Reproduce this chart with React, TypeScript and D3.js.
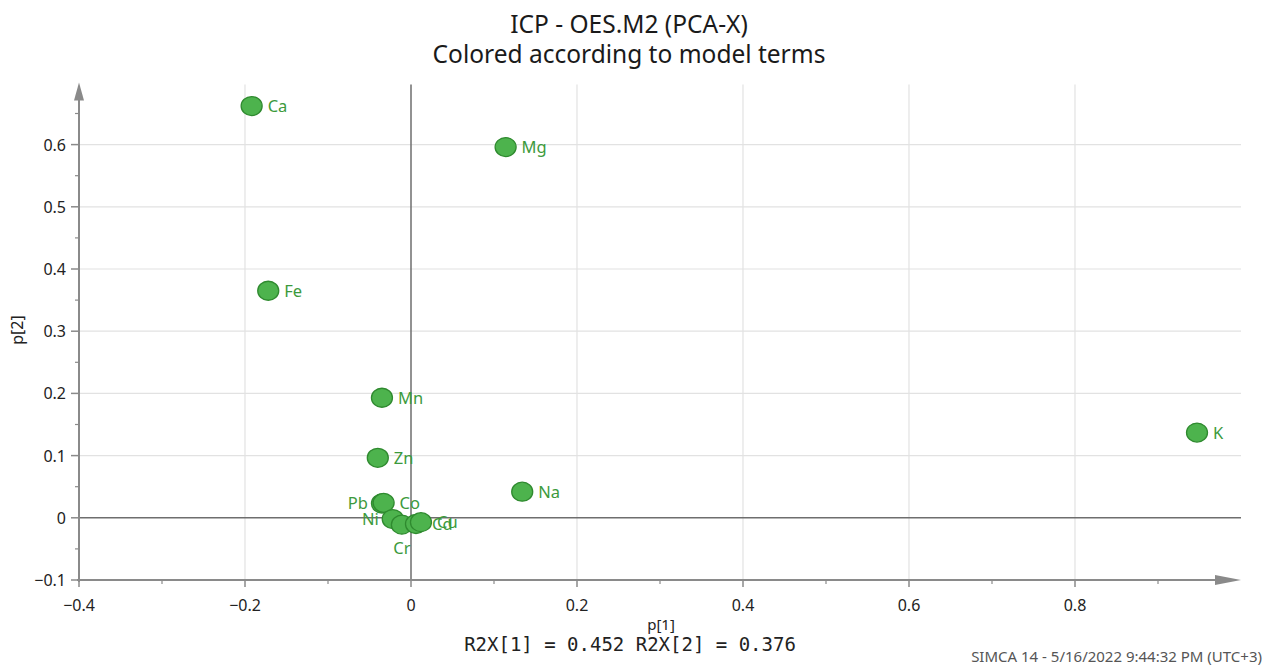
import React from "react";
import * as d3 from "d3";

const variables = ["Ca", "Mg", "Fe", "Mn", "Zn", "K", "Na", "Pb", "Co", "Ni", "Cr", "Cd", "Cu"];
const p1 = [-0.192, 0.114, -0.172, -0.035, -0.040, 0.947, 0.134, -0.035, -0.033, -0.022, -0.011, 0.006, 0.012];
const p2 = [0.662, 0.596, 0.365, 0.193, 0.0965, 0.137, 0.042, 0.023, 0.024, -0.002, -0.011, -0.010, -0.007];
const labelSide = ["right", "right", "right", "right", "right", "right", "right", "left", "right", "left", "below", "right", "right"];

const xTicks = [-0.4, -0.2, 0, 0.2, 0.4, 0.6, 0.8];
const yTicks = [-0.1, 0, 0.1, 0.2, 0.3, 0.4, 0.5, 0.6];
const xMinorTicks = [-0.3, -0.1, 0.1, 0.3, 0.5, 0.7, 0.9];
const yMinorTicks = [-0.05, 0.05, 0.15, 0.25, 0.35, 0.45, 0.55, 0.65];

const title1 = "ICP - OES.M2 (PCA-X)";
const title2 = "Colored according to model terms";
const xLabel = "p[1]";
const yLabel = "p[2]";
const r2Text = "R2X[1] = 0.452 R2X[2] = 0.376";
const footer = "SIMCA 14 - 5/16/2022 9:44:32 PM (UTC+3)";

export default function App() {
  const W = 1266, H = 665;
  const x = d3.scaleLinear().domain([-0.4, 1.0]).range([79, 1241]);
  const y = d3.scaleLinear().domain([-0.1, 0.7]).range([580, 82.4]);
  const x0 = x(-0.4), yB = y(-0.1);
  const xR = x(1.0), yT = y(0.7);
  const font = "'Noto Sans', 'Open Sans', sans-serif";
  const gridCol = "#e2e2e2";
  const axisCol = "#8a8a8a";
  const zeroCol = "#6e6e6e";
  const labelCol = "#3c9a3c";
  const fmt = (v: number) => (v === 0 ? "0" : d3.format("")(+v.toFixed(2)));

  return (
    <svg width={W} height={H} style={{ position: "absolute", left: 0, top: 0, background: "#fff" }} fontFamily={font}>
      <rect width={W} height={H} fill="#fff" />
      <text x={629} y={33} textAnchor="middle" fontSize={24.5} fill="#1a1a1a">{title1}</text>
      <text x={629} y={63} textAnchor="middle" fontSize={24.5} fill="#1a1a1a">{title2}</text>

      {/* grid */}
      {xTicks.filter((t) => t !== 0 && t !== -0.4).map((t) => (
        <line key={"gx" + t} x1={x(t)} x2={x(t)} y1={yB} y2={yT + 2} stroke={gridCol} strokeWidth={1.2} />
      ))}
      {yTicks.filter((t) => t !== 0 && t !== -0.1).map((t) => (
        <line key={"gy" + t} x1={x0} x2={xR} y1={y(t)} y2={y(t)} stroke={gridCol} strokeWidth={1.2} />
      ))}

      {/* zero lines */}
      <line x1={x(0)} x2={x(0)} y1={yB} y2={yT + 2} stroke={zeroCol} strokeWidth={1.5} />
      <line x1={x0} x2={xR} y1={y(0)} y2={y(0)} stroke={zeroCol} strokeWidth={1.5} />

      {/* axes */}
      <line x1={x0} x2={x0} y1={yB + 2} y2={yT + 14} stroke={axisCol} strokeWidth={2} />
      <path d={`M${x0},${yT} L${x0 - 5},${yT + 18} L${x0 + 5},${yT + 18} Z`} fill={axisCol} />
      <line x1={x0 - 2} x2={xR - 16} y1={yB} y2={yB} stroke={axisCol} strokeWidth={2} />
      <path d={`M${xR},${yB} L${xR - 26},${yB - 5} L${xR - 26},${yB + 5} Z`} fill={axisCol} />

      {/* ticks */}
      {xTicks.map((t) => (
        <line key={"tx" + t} x1={x(t)} x2={x(t)} y1={yB} y2={yB + 7} stroke={axisCol} strokeWidth={1.5} />
      ))}
      {xMinorTicks.map((t) => (
        <line key={"mx" + t} x1={x(t)} x2={x(t)} y1={yB} y2={yB + 4} stroke={axisCol} strokeWidth={1.2} />
      ))}
      {yTicks.map((t) => (
        <line key={"ty" + t} x1={x0 - 8} x2={x0} y1={y(t)} y2={y(t)} stroke={axisCol} strokeWidth={1.5} />
      ))}
      {yMinorTicks.map((t) => (
        <line key={"my" + t} x1={x0 - 4} x2={x0} y1={y(t)} y2={y(t)} stroke={axisCol} strokeWidth={1.2} />
      ))}

      {/* tick labels */}
      {xTicks.map((t) => (
        <text key={"lx" + t} x={x(t)} y={yB + 31} textAnchor="middle" fontSize={16} fill="#222">{fmt(t)}</text>
      ))}
      {yTicks.map((t) => (
        <text key={"ly" + t} x={x0 - 13} y={y(t) + 6} textAnchor="end" fontSize={16} fill="#222">{fmt(t)}</text>
      ))}

      {/* axis titles */}
      <text x={661} y={630} textAnchor="middle" fontSize={15} fill="#222">{xLabel}</text>
      <text transform={`translate(23,330) rotate(-90)`} textAnchor="middle" fontSize={16} fill="#222">{yLabel}</text>
      <text x={630} y={651} textAnchor="middle" fontSize={19} fontFamily="'DejaVu Sans Mono', 'Liberation Mono', monospace" fill="#222" xmlSpace="preserve">{r2Text}</text>
      <text x={1262} y={662} textAnchor="end" fontSize={15} fill="#555">{footer}</text>

      {/* points */}
      {variables.map((v, i) => (
        <ellipse key={"p" + v} cx={x(p1[i])} cy={y(p2[i])} rx={10.5} ry={9.5} fill="#4db34d" stroke="#2f8a2f" strokeWidth={1.3} />
      ))}
      {variables.map((v, i) => {
        const cx = x(p1[i]), cy = y(p2[i]);
        const side = labelSide[i];
        const lx = side === "right" ? cx + 16 : side === "left" ? cx - 14 : cx;
        const ly = side === "below" ? cy + 29 : cy + 6;
        const anchor = side === "right" ? "start" : side === "left" ? "end" : "middle";
        return (
          <text key={"t" + v} x={lx} y={ly} textAnchor={anchor} fontSize={16.5} fill={labelCol}>{v}</text>
        );
      })}
    </svg>
  );
}
